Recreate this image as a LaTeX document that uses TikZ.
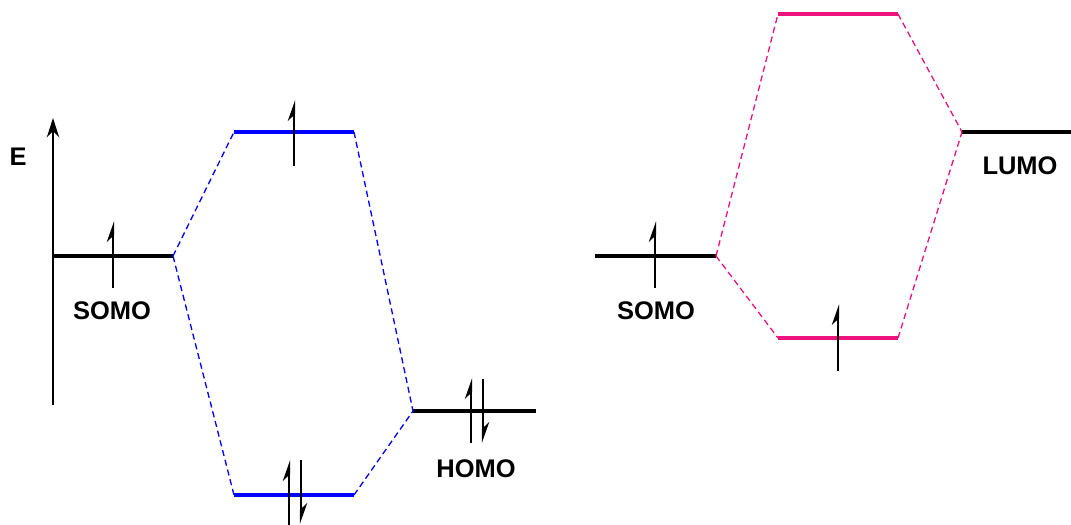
\documentclass[tikz,border=0pt]{standalone}
\usepackage{fontspec}
\setmainfont{Liberation Sans}
\usepackage{tikz}
\usetikzlibrary{arrows.meta}
\definecolor{mopink}{RGB}{235,20,125}

\begin{document}
\begin{tikzpicture}[x=0.02cm,y=-0.02cm,
   level/.style={line width=2pt},
   corr/.style={dashed,line width=0.75pt,dash pattern=on 3.5pt off 2.2pt},
   spin/.style={line width=1.3pt,-{Stealth[harpoon,length=10pt,width=7pt]}},
   lbl/.style={font=\fontsize{14.5pt}{16pt}\selectfont\bfseries,inner sep=0pt}]
  \useasboundingbox (0,0) rectangle (1071,524);
  % left: SOMO + HOMO
  \coordinate (ax0) at (53,405); \coordinate (ax1) at (53,118);
  \draw[line width=1.3pt,-{Stealth[length=11pt,width=7pt]}] (ax0)--(ax1);
  \node[lbl](E) at (18,157){E};
  \coordinate (s1l) at (53,256);  \coordinate (s1r) at (173,256);
  \coordinate (b1l) at (234,132); \coordinate (b1r) at (354,132);
  \coordinate (b2l) at (234,495); \coordinate (b2r) at (354,495);
  \coordinate (h1l) at (413,411); \coordinate (h1r) at (536,411);
  \draw[level] (s1l)--(s1r); \draw[level] (h1l)--(h1r);
  \draw[level,blue] (b1l)--(b1r); \draw[level,blue] (b2l)--(b2r);
  \draw[corr,blue] (s1r)--(b1l); \draw[corr,blue] (b1r)--(h1l);
  \draw[corr,blue] (s1r)--(b2l); \draw[corr,blue] (b2r)--(h1l);
  \node[lbl](somo1) at (112,311){SOMO};
  \node[lbl](homo) at (476,469){HOMO};
  % electrons
  \coordinate (e1a) at (113,288); \coordinate (e1b) at (113,221);
  \draw[spin] (e1a)--(e1b);
  \coordinate (e2a) at (294,166); \coordinate (e2b) at (294,100);
  \draw[spin] (e2a)--(e2b);
  \coordinate (e3a) at (289,528); \coordinate (e3b) at (289,460);
  \coordinate (e4a) at (301,460); \coordinate (e4b) at (301,524);
  \draw[spin] (e3a)--(e3b); \draw[spin] (e4a)--(e4b);
  \coordinate (e5a) at (471,443); \coordinate (e5b) at (471,378);
  \coordinate (e6a) at (483,379); \coordinate (e6b) at (483,443);
  \draw[spin] (e5a)--(e5b); \draw[spin] (e6a)--(e6b);
  % right: SOMO + LUMO
  \coordinate (s2l) at (595,256); \coordinate (s2r) at (716,256);
  \coordinate (p1l) at (778,14);  \coordinate (p1r) at (898,14);
  \coordinate (p2l) at (778,338); \coordinate (p2r) at (898,338);
  \coordinate (l1l) at (962,132); \coordinate (l1r) at (1071,132);
  \draw[level] (s2l)--(s2r); \draw[level] (l1l)--(l1r);
  \draw[level,mopink] (p1l)--(p1r); \draw[level,mopink] (p2l)--(p2r);
  \draw[corr,mopink] (s2r)--(p1l); \draw[corr,mopink] (p1r)--(l1l);
  \draw[corr,mopink] (s2r)--(p2l); \draw[corr,mopink] (p2r)--(l1l);
  \node[lbl](somo2) at (656,311){SOMO};
  \node[lbl](lumo) at (1020,166){LUMO};
  \coordinate (e7a) at (655,288); \coordinate (e7b) at (655,221);
  \draw[spin] (e7a)--(e7b);
  \coordinate (e8a) at (838,371); \coordinate (e8b) at (838,304);
  \draw[spin] (e8a)--(e8b);
\end{tikzpicture}
\end{document}
